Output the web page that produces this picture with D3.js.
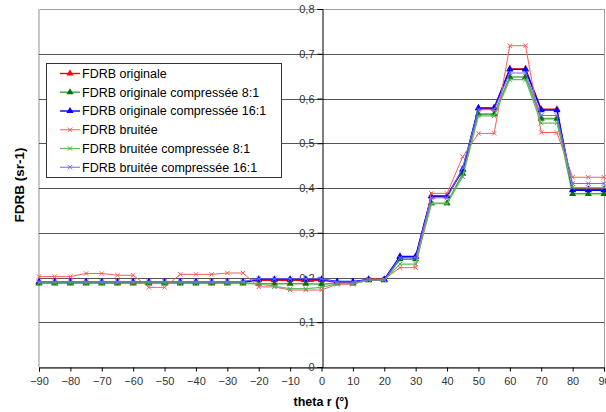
<!DOCTYPE html>
<html>
<head>
<meta charset="utf-8">
<script src="https://cdn.jsdelivr.net/npm/d3@7/dist/d3.min.js"></script>
<style>
  html, body { margin: 0; padding: 0; background: #fff; }
  svg { display: block; }
  text { font-family: "Liberation Sans", Arial, sans-serif; }
</style>
</head>
<body>
<svg id="chart" width="606" height="412"></svg>
<script>
// Angles (theta r, degrees)
const angles = [-90, -85, -80, -75, -70, -65, -60, -55, -50, -45, -40, -35, -30, -25, -20, -15, -10, -5, 0,
                5, 10, 15, 20, 25, 30, 35, 40, 45, 50, 55, 60, 65, 70, 75, 80, 85, 90];

// FDRB series (sr-1)
const originale = [0.189, 0.189, 0.189, 0.189, 0.189, 0.189, 0.189, 0.189, 0.189, 0.189, 0.189, 0.189, 0.189, 0.189,
                   0.194, 0.194, 0.194, 0.194, 0.194, 0.189, 0.189, 0.196, 0.196, 0.246, 0.246, 0.381, 0.381, 0.440,
                   0.578, 0.578, 0.666, 0.666, 0.576, 0.576, 0.397, 0.397, 0.397];
const originale8 = [0.187, 0.187, 0.187, 0.187, 0.187, 0.187, 0.187, 0.187, 0.187, 0.187, 0.187, 0.187, 0.187, 0.187,
                    0.186, 0.186, 0.186, 0.186, 0.185, 0.187, 0.187, 0.194, 0.194, 0.241, 0.241, 0.366, 0.366, 0.432,
                    0.565, 0.565, 0.648, 0.648, 0.555, 0.555, 0.387, 0.387, 0.387];
const originale16 = [0.190, 0.190, 0.190, 0.190, 0.190, 0.190, 0.190, 0.190, 0.190, 0.190, 0.190, 0.190, 0.190, 0.190,
                     0.196, 0.196, 0.196, 0.196, 0.196, 0.191, 0.191, 0.195, 0.195, 0.247, 0.247, 0.382, 0.382, 0.442,
                     0.579, 0.579, 0.665, 0.665, 0.574, 0.574, 0.395, 0.395, 0.395];
const bruitee = [0.202, 0.202, 0.202, 0.209, 0.209, 0.205, 0.205, 0.178, 0.178, 0.207, 0.207, 0.207, 0.210, 0.210,
                 0.179, 0.179, 0.172, 0.172, 0.172, 0.185, 0.185, 0.196, 0.196, 0.222, 0.222, 0.388, 0.388, 0.470,
                 0.522, 0.522, 0.718, 0.718, 0.524, 0.524, 0.424, 0.424, 0.424];
const bruitee8 = [0.188, 0.188, 0.188, 0.188, 0.188, 0.188, 0.188, 0.188, 0.188, 0.188, 0.188, 0.188, 0.188, 0.188,
                  0.186, 0.180, 0.175, 0.175, 0.178, 0.186, 0.186, 0.194, 0.194, 0.230, 0.230, 0.365, 0.365, 0.425,
                  0.561, 0.561, 0.642, 0.642, 0.545, 0.545, 0.401, 0.401, 0.401];
const bruitee16 = [0.191, 0.191, 0.191, 0.191, 0.191, 0.191, 0.191, 0.191, 0.191, 0.191, 0.191, 0.191, 0.191, 0.191,
                   0.197, 0.197, 0.197, 0.197, 0.197, 0.190, 0.190, 0.195, 0.195, 0.244, 0.244, 0.378, 0.378, 0.445,
                   0.575, 0.575, 0.657, 0.657, 0.562, 0.562, 0.410, 0.410, 0.410];

const seriesNames = ["FDRB originale", "FDRB originale compressée 8:1", "FDRB originale compressée 16:1",
                     "FDRB bruitée", "FDRB bruitée compressée 8:1", "FDRB bruitée compressée 16:1"];
const seriesValues = [originale, originale8, originale16, bruitee, bruitee8, bruitee16];

const yTicks = [0, 0.1, 0.2, 0.3, 0.4, 0.5, 0.6, 0.7, 0.8];
const xTicks = [-90, -80, -70, -60, -50, -40, -30, -20, -10, 0, 10, 20, 30, 40, 50, 60, 70, 80, 90];

// Per-series drawing styles
const styles = [
  { line: "#ff0000", width: 1.4, marker: "tri", mark: "#ff0000" },
  { line: "#55aa55", width: 1.6, marker: "tri", mark: "#007700" },
  { line: "#0000ff", width: 1.4, marker: "tri", mark: "#0000ff" },
  { line: "#ff5a5a", width: 1.0, marker: "x", mark: "#ff5a5a" },
  { line: "#66bb66", width: 1.2, marker: "x", mark: "#55aa55" },
  { line: "#6a6aff", width: 1.0, marker: "x", mark: "#6a6aff" }
];

const svg = d3.select("#chart");
const plotLeft = 39, plotRight = 604, plotTop = 9, plotBottom = 367;

const x = d3.scaleLinear().domain([-90, 90]).range([plotLeft, plotRight]);
const y = d3.scaleLinear().domain([0, 0.8]).range([plotBottom, plotTop]);

// Plot area frame
svg.append("rect")
  .attr("x", plotLeft + 0.5).attr("y", plotTop + 0.5)
  .attr("width", plotRight - plotLeft).attr("height", plotBottom - plotTop)
  .attr("fill", "none").attr("stroke", "#a0a0a0").attr("stroke-width", 1);
svg.append("line")
  .attr("x1", plotLeft).attr("x2", plotLeft).attr("y1", plotTop).attr("y2", plotBottom)
  .attr("stroke", "#c8c8c8").attr("stroke-width", 2);

// Horizontal gridlines
svg.append("g").selectAll("line")
  .data(yTicks.filter(t => t > 0 && t < 0.8))
  .join("line")
  .attr("x1", plotLeft).attr("x2", plotRight)
  .attr("y1", d => Math.round(y(d)) + 0.5).attr("y2", d => Math.round(y(d)) + 0.5)
  .attr("stroke", "#555").attr("stroke-width", 1);

// X axis crossing at 0
const xAxis = d3.axisBottom(x).tickValues(xTicks).tickSize(4).tickPadding(6)
  .tickFormat(d3.format("d"));
const gx = svg.append("g").attr("transform", `translate(0,${plotBottom + 0.5})`).call(xAxis);
gx.select(".domain").attr("stroke", "#000");
gx.selectAll(".tick line").attr("stroke", "#000");
gx.selectAll(".tick text").attr("fill", "#333").attr("font-size", 11)
  .attr("font-family", "Liberation Sans, Arial, sans-serif");

// Y axis crossing at theta = 0
const yAxis = d3.axisLeft(y).tickValues(yTicks).tickSize(5).tickPadding(3)
  .tickFormat(d => d === 0 ? "0" : d3.format(".1f")(d).replace(".", ","));
const gy = svg.append("g").attr("transform", `translate(${Math.round(x(0)) + 0.5},0)`).call(yAxis);
gy.select(".domain").attr("stroke", "#000");
gy.selectAll(".tick line").attr("stroke", "#000");
gy.selectAll(".tick text").attr("fill", "#333").attr("font-size", 11)
  .attr("font-family", "Liberation Sans, Arial, sans-serif");

// Marker drawing helper
function drawMarker(g, type, color, cx, cy) {
  if (type === "tri") {
    g.append("path")
      .attr("d", d3.symbol(d3.symbolTriangle, 22)())
      .attr("transform", `translate(${cx},${cy})`)
      .attr("fill", color);
  } else {
    const s = 2.2;
    g.append("path")
      .attr("d", `M${cx - s},${cy - s}L${cx + s},${cy + s}M${cx - s},${cy + s}L${cx + s},${cy - s}`)
      .attr("stroke", color).attr("stroke-width", 1).attr("fill", "none");
  }
}

// Series lines and markers
const line = d3.line().x(d => x(d[0])).y(d => y(d[1]));
seriesValues.forEach((vals, i) => {
  const st = styles[i];
  const g = svg.append("g");
  const pts = angles.map((a, k) => [a, vals[k]]);
  g.append("path").datum(pts)
    .attr("d", line).attr("fill", "none")
    .attr("stroke", st.line).attr("stroke-width", st.width)
    .attr("stroke-linejoin", "round");
  pts.forEach(p => drawMarker(g, st.marker, st.mark, x(p[0]), y(p[1])));
});

// Legend
const legend = svg.append("g");
legend.append("rect")
  .attr("x", 46.5).attr("y", 63.5).attr("width", 235).attr("height", 114)
  .attr("fill", "#fff").attr("stroke", "#333").attr("stroke-width", 1);
seriesNames.forEach((name, i) => {
  const st = styles[i];
  const cy = 73.5 + i * 18.75;
  legend.append("line")
    .attr("x1", 60).attr("x2", 80).attr("y1", cy).attr("y2", cy)
    .attr("stroke", st.line).attr("stroke-width", st.width);
  drawMarker(legend, st.marker, st.mark, 70, cy);
  legend.append("text")
    .attr("x", 82).attr("y", cy + 4.3)
    .attr("font-size", 12.5).attr("fill", "#000")
    .text(name);
});

// Axis titles
svg.append("text")
  .attr("transform", "translate(24,185) rotate(-90)")
  .attr("text-anchor", "middle")
  .attr("font-size", 13.5).attr("font-weight", "bold")
  .text("FDRB (sr-1)");
svg.append("text")
  .attr("x", 321).attr("y", 406)
  .attr("text-anchor", "middle")
  .attr("font-size", 12.5).attr("font-weight", "bold")
  .text("theta r (°)");
</script>
</body>
</html>
